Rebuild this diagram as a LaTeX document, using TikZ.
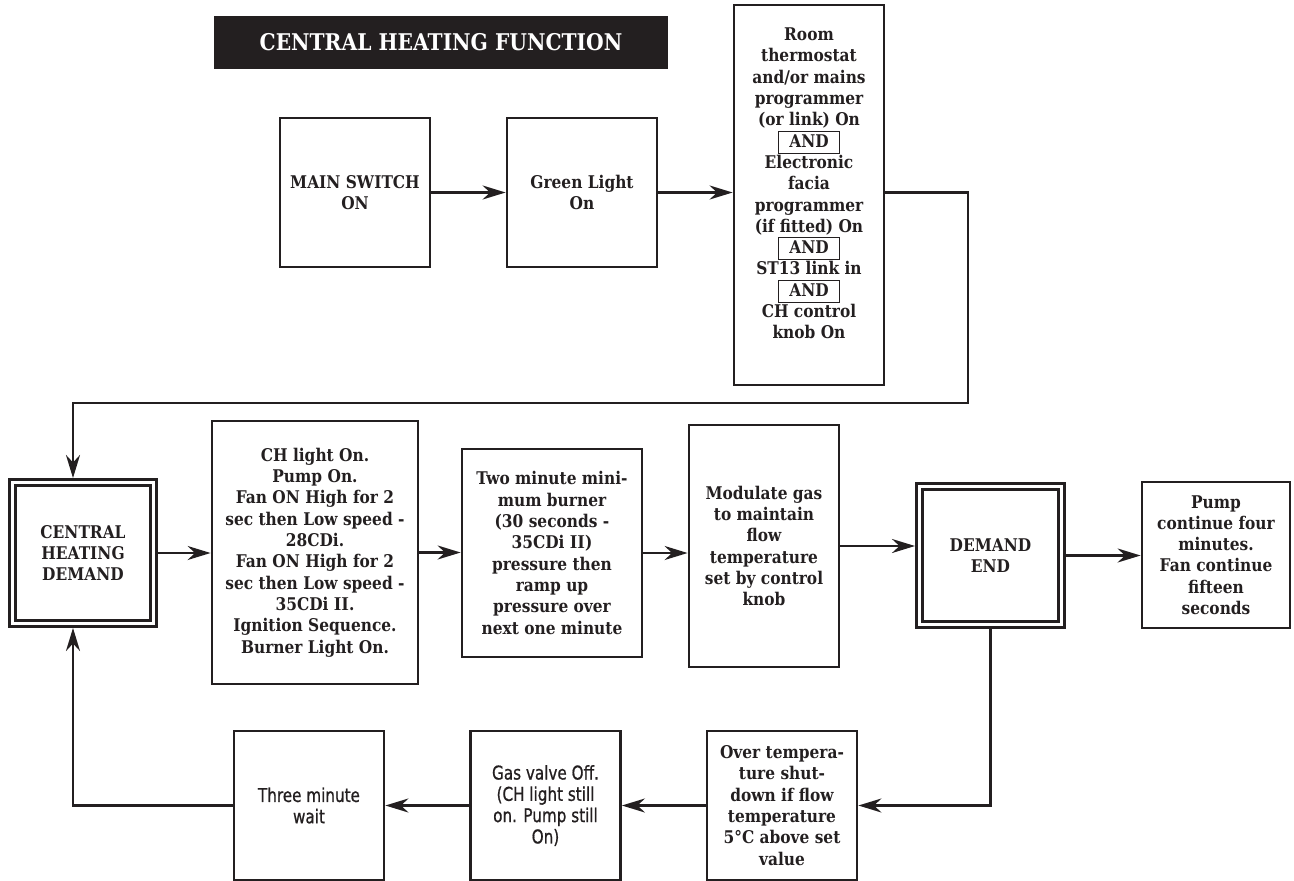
\documentclass[tikz,border=0pt]{standalone}
\usepackage{fontspec}
\usepackage{tikz}
\usetikzlibrary{arrows.meta, positioning}
\definecolor{inkdark}{RGB}{35,31,32}
\newfontfamily\slabfont{DejaVu Serif}[FakeStretch=0.88]
\newfontfamily\narrowfont{DejaVu Sans}[FakeStretch=0.8, FakeBold=0.8]
\newfontfamily\romfont{Liberation Serif}
\newcommand{\romII}{{\romfont\bfseries\fontsize{19.5}{21.3}\selectfont II}}
\newcommand{\andbox}{\smash{\fboxsep=0pt\fboxrule=1pt\fbox{\makebox[60pt]{\rule[-5.5pt]{0pt}{21pt}AND}}}}
\tikzset{
  box/.style={rectangle, draw=inkdark, line width=2.8pt, align=center,
    inner sep=0pt, text=inkdark, minimum width=150pt,
    font=\slabfont\bfseries\fontsize{17.5}{21.3}\selectfont},
  narrowbox/.style={box, font=\narrowfont\fontsize{19}{21.3}\selectfont},
  demandbox/.style={box, double, double distance=3pt, line width=3pt, outer sep=4.5pt},
  titlebar/.style={rectangle, fill=inkdark, text=white, minimum width=454pt,
    minimum height=53pt, font=\slabfont\bfseries\fontsize{23}{26}\selectfont},
  arrow/.style={-{Stealth[length=23pt,width=14pt]}, line width=2.6pt, draw=inkdark},
  line/.style={line width=2.6pt, draw=inkdark}
}
\begin{document}
\begin{tikzpicture}[x=1pt, y=-1pt]
  \useasboundingbox (0,0) rectangle (1294,881);
  \node[titlebar] (title) at (441,42.5) {CENTRAL HEATING FUNCTION};

  % top row
  \node[box, minimum height=149pt] (mainsw) at (355,192.5) {MAIN SWITCH\\ON};
  \node[box, minimum height=149pt] (green) at (582,192.5) {Green Light\\On};
  \node[box, minimum height=380pt] (room) at (809,195) {Room\\thermostat\\and/or mains\\programmer\\(or link) On\\\andbox\\Electronic\\facia\\programmer\\(if fitted) On\\\andbox\\ST13 link in\\\andbox\\CH control\\knob On\\[2pt]\mbox{}};

  % middle row
  \node[demandbox, minimum width=141pt, minimum height=141pt] (chdemand) at (83,553) {CENTRAL\\HEATING\\DEMAND};
  \node[box, minimum width=206pt, minimum height=263pt] (chlight) at (315,552.5) {CH light On.\\Pump On.\\Fan ON High for 2\\sec then Low speed -\\28CDi.\\Fan ON High for 2\\sec then Low speed -\\35CDi \romII.\\Ignition Sequence.\\Burner Light On.};
  \node[box, minimum width=180pt, minimum height=208pt] (twomin) at (552,553) {Two minute mini-\\mum burner\\(30 seconds -\\35CDi \romII)\\pressure then\\ramp up\\pressure over\\next one minute};
  \node[box, minimum height=242pt] (modulate) at (764,546) {Modulate gas\\to maintain\\flow\\temperature\\set by control\\knob};
  \node[demandbox, minimum width=142pt, minimum height=138pt] (demandend) at (990.5,555.5) {DEMAND\\END};
  \node[box, minimum width=148pt, minimum height=146pt] (pump) at (1216,555) {Pump\\continue four\\minutes.\\Fan continue\\fifteen\\seconds};

  % bottom row
  \node[box, minimum height=149pt] (overtemp) at (782,805.5) {Over tempera-\\ture shut-\\down if flow\\temperature\\5°C above set\\value};
  \node[narrowbox, minimum height=149pt] (gasvalve) at (545.5,805.5) {Gas valve Off.\\(CH light still\\on. Pump still\\On)};
  \node[narrowbox, minimum height=149pt] (threemin) at (309,805.5) {Three minute\\wait};

  \coordinate (turnA) at (968,403);
  \coordinate (turnB) at (73,403);
  \coordinate (turnC) at (73,805.5);

  \draw[arrow] (mainsw) -- (green);
  \draw[arrow] (green) -- (green -| room.west);
  \draw[arrow] (room.east |- green) -| (turnA) -- (turnB) -- (turnB |- chdemand.north);
  \draw[arrow] (chdemand) -- (chdemand -| chlight.west);
  \draw[arrow] (chlight) -- (chlight -| twomin.west);
  \draw[arrow] (twomin) -- (twomin -| modulate.west);
  \draw[arrow] (modulate) -- (modulate -| demandend.west);
  \draw[arrow] (demandend) -- (demandend -| pump.west);
  \draw[arrow] (demandend) |- (overtemp);
  \draw[arrow] (overtemp) -- (gasvalve);
  \draw[arrow] (gasvalve) -- (threemin);
  \draw[arrow] (threemin) -- (turnC) -- (turnC |- chdemand.south);
\end{tikzpicture}
\end{document}
